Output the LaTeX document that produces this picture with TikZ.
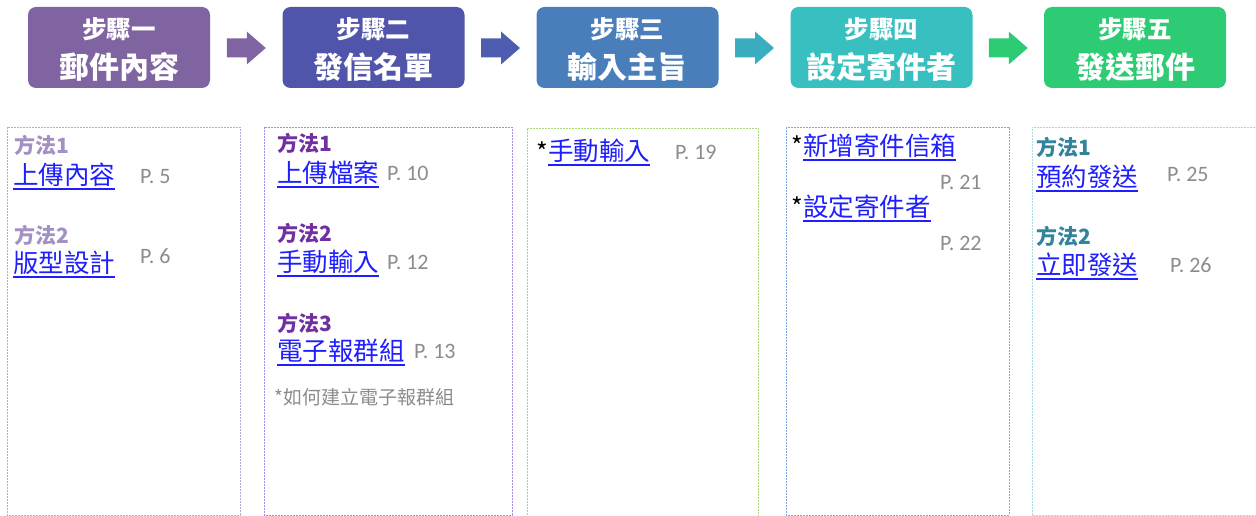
\documentclass[tikz,border=0pt]{standalone}
\usepackage{fontspec}
\setmainfont{Noto Sans CJK TC}
\newfontfamily\pnfont{Carlito}
\usetikzlibrary{calc}
\definecolor{cA}{HTML}{8064A2}
\definecolor{cB}{HTML}{5054AA}
\definecolor{cC}{HTML}{4A7EBB}
\definecolor{cD}{HTML}{38C0C0}
\definecolor{cE}{HTML}{2DCB74}
\definecolor{aB}{HTML}{4E5DB0}
\definecolor{aC}{HTML}{3AAEC0}
\definecolor{dA}{HTML}{B8A8D8}
\definecolor{dB}{HTML}{A68AE6}
\definecolor{dC}{HTML}{A8D878}
\definecolor{dD}{HTML}{7FA6E0}
\definecolor{dE}{HTML}{A6DAE8}
\definecolor{mA}{HTML}{A491C4}
\definecolor{mB}{HTML}{7030A0}
\definecolor{mE}{HTML}{31849B}
\definecolor{lnkc}{HTML}{1E1EFF}
\definecolor{pgc}{HTML}{8C8C8C}
\tikzset{
  stepbox/.style={rounded corners=8pt, minimum width=182pt, minimum height=81pt, inner sep=0pt, draw=none},
  hdrA/.style={text=white, inner sep=0pt, font=\bfseries\fontsize{24.5}{24.5}\selectfont},
  hdrB/.style={text=white, inner sep=0pt, font=\bfseries\fontsize{30}{30}\selectfont},
  dbox/.style={line width=0.8pt, dash pattern=on 2pt off 1pt},
  method/.style={anchor=west, inner sep=0pt, font=\bfseries\fontsize{21}{21}\selectfont},
  link/.style={anchor=west, inner sep=0pt, text=lnkc, font=\fontsize{25.5}{25.5}\selectfont},
  uline/.style={draw=lnkc, line width=1.4pt},
  pg/.style={anchor=west, inner sep=0pt, text=pgc, font=\pnfont\fontsize{22}{22}\selectfont},
  star/.style={anchor=west, inner sep=0pt, text=black, font=\fontsize{25}{25}\selectfont},
  note/.style={anchor=west, inner sep=0pt, text=pgc, font=\fontsize{19}{19}\selectfont},
}
\newcommand\mylink[3]{%
  \node[link] (#1) at (#2) {#3};
  \draw[uline] ([yshift=-2pt]#1.south west) -- ([yshift=-2pt]#1.south east);}
\newcommand\myarrow[3]{%
  \coordinate (#1) at (#2);
  \fill[#3] ($(#1)+(-19.5,-9.5)$) -- ($(#1)+(0.5,-9.5)$) -- ($(#1)+(0.5,-16.5)$)
    -- ($(#1)+(19.5,0)$) -- ($(#1)+(0.5,16.5)$) -- ($(#1)+(0.5,9.5)$)
    -- ($(#1)+(-19.5,9.5)$) -- cycle;}
\begin{document}
\begin{tikzpicture}[x=1pt,y=-1pt]
\useasboundingbox (0,0) rectangle (1256,516);
% step boxes
\node[stepbox, fill=cA] (s1) at (119,47.5) {};
\node[stepbox, fill=cB] (s2) at (373.5,47.5) {};
\node[stepbox, fill=cC] (s3) at (627.5,47.5) {};
\node[stepbox, fill=cD] (s4) at (881.5,47.5) {};
\node[stepbox, fill=cE] (s5) at (1135,47.5) {};
\node[hdrA] (h1a) at (119,29) {步驟一};
\node[hdrB] (h1b) at (119,67) {郵件內容};
\node[hdrA] (h2a) at (373.5,29) {步驟二};
\node[hdrB] (h2b) at (373.5,67) {發信名單};
\node[hdrA] (h3a) at (627.5,29) {步驟三};
\node[hdrB] (h3b) at (627.5,67) {輸入主旨};
\node[hdrA] (h4a) at (881.5,29) {步驟四};
\node[hdrB] (h4b) at (881.5,67) {設定寄件者};
\node[hdrA] (h5a) at (1135,29) {步驟五};
\node[hdrB] (h5b) at (1135,67) {發送郵件};
% arrows between steps
\myarrow{a1}{$(s1.east)!0.5!(s2.west)+(0,0.5)$}{cA}
\myarrow{a2}{$(s2.east)!0.5!(s3.west)+(0,0.5)$}{aB}
\myarrow{a3}{$(s3.east)!0.5!(s4.west)+(0,0.5)$}{aC}
\myarrow{a4}{$(s4.east)!0.5!(s5.west)+(0,0.5)$}{cE}
% dashed containers
\draw[dbox, draw=dA] (7,127) rectangle (240,515);
\draw[dbox, draw=dB] (264,127) rectangle (512,515);
\draw[dbox, draw=dC] (527,518) -- (527,128) -- (758,128) -- (758,518);
\draw[dbox, draw=dD] (786,127) rectangle (1009,515);
\draw[dbox, draw=dE] (1260,515) -- (1032,515) -- (1032,127) -- (1260,127);
% box 1
\node[method, text=mA] (m11) at (14,145) {方法1};
\mylink{l11}{13,175}{上傳內容}
\node[pg] (p11) at (140,177) {P. 5};
\node[method, text=mA] (m12) at (14,235) {方法2};
\mylink{l12}{13,263}{版型設計}
\node[pg] (p12) at (140,256) {P. 6};
% box 2
\node[method, text=mB] (m21) at (277,143) {方法1};
\mylink{l21}{277,173}{上傳檔案}
\node[pg] (p21) at (387,173) {P. 10};
\node[method, text=mB] (m22) at (277,233) {方法2};
\mylink{l22}{277,262}{手動輸入}
\node[pg] (p22) at (387,262) {P. 12};
\node[method, text=mB] (m23) at (277,323) {方法3};
\mylink{l23}{277,351}{電子報群組}
\node[pg] (p23) at (414,351) {P. 13};
\node[note] (n2) at (274,397) {*如何建立電子報群組};
% box 3
\node[star] (st3) at (536,152) {*};
\mylink{l31}{548,151}{手動輸入}
\node[pg] (p31) at (675,152) {P. 19};
% box 4
\node[star] (st41) at (791,146) {*};
\mylink{l41}{803,146}{新增寄件信箱}
\node[pg] (p41) at (940,182) {P. 21};
\node[star] (st42) at (791,207) {*};
\mylink{l42}{803,207}{設定寄件者}
\node[pg] (p42) at (940,243) {P. 22};
% box 5
\node[method, text=mE] (m51) at (1036,147) {方法1};
\mylink{l51}{1036,177}{預約發送}
\node[pg] (p51) at (1167,174) {P. 25};
\node[method, text=mE] (m52) at (1036,236) {方法2};
\mylink{l52}{1036,265}{立即發送}
\node[pg] (p52) at (1170,265) {P. 26};
\end{tikzpicture}
\end{document}
